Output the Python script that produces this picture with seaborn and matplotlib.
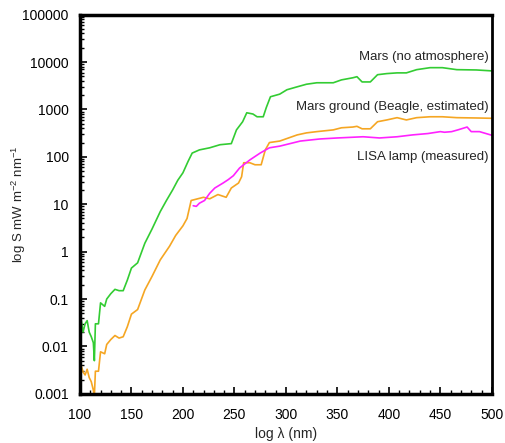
import pandas as pd
import matplotlib
matplotlib.use("Agg")
import matplotlib.pyplot as plt
import seaborn as sns
from matplotlib.ticker import MultipleLocator, LogLocator, FuncFormatter, NullFormatter

# Mars surface, no atmosphere
mars_nm = [100, 101, 103, 105, 107, 109, 111, 113, 114, 115, 118, 120, 124, 126,
           130, 134, 138, 142, 146, 150, 156, 163, 170, 178, 184, 190, 195, 200,
           205, 209, 216, 226, 236, 247, 252, 258, 262, 268, 272, 278, 281, 285,
           294, 301, 311, 320, 330, 346, 354, 365, 369, 374, 382, 389, 398, 408,
           417, 427, 440, 452, 466, 485, 500]
mars_val = [0.015, 0.04, 0.02, 0.03, 0.035, 0.02, 0.016, 0.012, 0.005, 0.03, 0.03,
            0.083, 0.07, 0.1, 0.13, 0.16, 0.15, 0.15, 0.25, 0.45, 0.58, 1.5, 3.0,
            7, 12, 20, 32, 46, 80, 120, 140, 155, 180, 190, 370, 550, 850, 800,
            700, 700, 1100, 1850, 2100, 2600, 3000, 3400, 3650, 3650, 4200, 4650,
            4900, 3800, 3800, 5400, 5700, 5900, 5900, 6900, 7600, 7600, 6900, 6800,
            6500]

# Mars ground (Beagle, estimated)
ground_nm = [100, 101, 103, 105, 107, 109, 111, 113, 114, 115, 118, 120, 124, 126,
             130, 134, 138, 142, 146, 150, 156, 163, 170, 178, 187, 193, 200, 204,
             208, 220, 226, 234, 242, 247, 254, 257, 259, 265, 270, 276, 280, 284,
             294, 311, 320, 330, 346, 354, 365, 369, 374, 382, 389, 398, 408, 417,
             427, 440, 452, 466, 485, 500]
ground_val = [0.0014, 0.0041, 0.0029, 0.0025, 0.0033, 0.0022, 0.0018, 0.0012, 0.0009,
              0.003, 0.003, 0.0077, 0.007, 0.011, 0.014, 0.017, 0.015, 0.016, 0.026,
              0.048, 0.06, 0.155, 0.3, 0.67, 1.3, 2.2, 3.5, 5, 12, 14, 13, 16, 14, 22,
              28, 38, 75, 75, 68, 68, 140, 200, 215, 290, 320, 340, 370, 410, 425,
              440, 390, 390, 550, 600, 670, 600, 670, 700, 700, 670, 660, 650]

# LISA lamp (measured)
lamp_nm = [210, 213, 216, 221, 226, 231, 239, 244, 249, 255, 265, 275, 284, 294,
           304, 314, 333, 350, 375, 391, 408, 423, 438, 450, 454, 461, 467, 476,
           480, 488, 500]
lamp_val = [9.3, 9, 10.5, 12, 17, 22, 28, 33, 40, 58, 86, 120, 155, 168, 190, 215,
            238, 250, 265, 250, 265, 290, 310, 340, 330, 340, 370, 425, 340, 340, 285]

series_names = ["Mars (no atmosphere)", "Mars ground (Beagle, estimated)", "LISA lamp (measured)"]

df = pd.concat([
    pd.DataFrame({"nm": mars_nm, "S": mars_val, "series": series_names[0]}),
    pd.DataFrame({"nm": ground_nm, "S": ground_val, "series": series_names[1]}),
    pd.DataFrame({"nm": lamp_nm, "S": lamp_val, "series": series_names[2]}),
])

sns.set_style("ticks")
plt.rcParams["font.family"] = ["Liberation Sans", "DejaVu Sans"]
plt.rcParams["mathtext.default"] = "regular"

fig = plt.figure(figsize=(5.06, 4.43), dpi=100)
ax = fig.add_axes([0.158, 0.111, 0.814, 0.856])

palette = {series_names[0]: "#33cc33", series_names[1]: "#f5a623", series_names[2]: "#ff22ff"}
sns.lineplot(data=df, x="nm", y="S", hue="series", palette=palette,
             linewidth=1.2, legend=False, ax=ax, sort=False)

ax.set_yscale("log")
ax.set_xlim(100, 500)
ax.set_ylim(0.001, 100000)
ax.xaxis.set_major_locator(MultipleLocator(50))
ax.xaxis.set_minor_locator(MultipleLocator(10))
ax.yaxis.set_major_locator(LogLocator(base=10, numticks=20))
ax.yaxis.set_minor_locator(LogLocator(base=10, subs=range(2, 10), numticks=20))
ax.yaxis.set_major_formatter(FuncFormatter(lambda v, p: f"{v:g}"))
ax.yaxis.set_minor_formatter(NullFormatter())

ax.tick_params(axis="both", which="both", direction="in", labelsize=10, colors="black")
ax.tick_params(which="major", length=5, width=1.2)
ax.tick_params(which="minor", length=3, width=1)
ax.tick_params(axis="x", which="major", pad=10)
ax.tick_params(axis="y", which="major", pad=8)

for side in ["left", "bottom", "top"]:
    ax.spines[side].set_linewidth(2.5)
ax.spines["right"].set_linewidth(2)
for s in ax.spines.values():
    s.set_color("black")

ax.set_xlabel("log \u03bb (nm)", fontsize=10, labelpad=4)
ax.set_ylabel("log S mW m$^{-2}$ nm$^{-1}$", fontsize=9.5)
ax.yaxis.set_label_coords(-0.126, 0.5)

label_y = [12900, 1100, 100]
for name, yv in zip(series_names, label_y):
    ax.text(497, yv, name, ha="right", va="center", fontsize=9.5)

fig.savefig("out.png", dpi=100)
